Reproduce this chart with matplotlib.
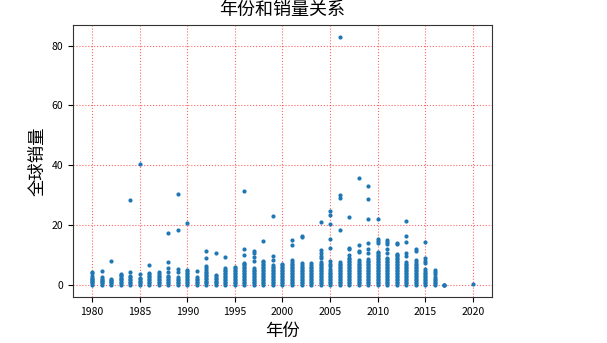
import matplotlib
matplotlib.use("Agg")
import matplotlib.pyplot as plt

plt.rcParams['font.family'] = ['Noto Sans CJK SC', 'DejaVu Sans']
plt.rcParams['axes.unicode_minus'] = False

# Global sales (millions) of titles released each year
years = [1980, 1981, 1982, 1983, 1984, 1985, 1986, 1987, 1988, 1989,
         1990, 1991, 1992, 1993, 1994, 1995, 1996, 1997, 1998, 1999,
         2000, 2001, 2002, 2003, 2004, 2005, 2006, 2007, 2008, 2009,
         2010, 2011, 2012, 2013, 2014, 2015, 2016, 2017, 2020]

y1980 = [0.01, 0.4, 0.8, 1.1, 1.5, 1.9, 2.3, 2.8, 3.8, 4.31]
y1981 = [0.02, 0.4, 0.8, 1.2, 1.6, 2.0, 2.5, 4.5]
y1982 = [0.01, 0.4, 0.8, 1.2, 1.6, 2.0, 7.81]
y1983 = [0.02, 0.5, 0.9, 1.4, 1.8, 2.3, 2.8, 3.2, 3.6]
y1984 = [0.03, 0.5, 0.9, 1.4, 1.9, 2.4, 2.9, 4.2, 28.31]
y1985 = [0.02, 0.4, 0.9, 1.3, 1.8, 2.3, 3.7, 40.24]
y1986 = [0.02, 0.5, 1.0, 1.5, 2.0, 2.5, 3.0, 3.5, 3.9, 6.51]
y1987 = [0.02, 0.5, 1.0, 1.5, 2.0, 2.5, 3.0, 3.6, 4.38]
y1988 = [0.03, 0.5, 1.0, 1.5, 2.0, 2.5, 3.0, 4.3, 5.7, 7.5, 17.28]
y1989 = [0.02, 0.5, 1.0, 1.5, 2.0, 2.5, 4.1, 5.3, 18.14, 30.26]
y1990 = [0.03, 0.5, 1.0, 1.5, 2.0, 2.5, 3.0, 3.5, 4.0, 4.5, 5.0, 20.61]
y1991 = [0.02, 0.5, 1.0, 1.5, 2.0, 2.4, 4.6]
y1992 = [0.02, 0.4, 0.9, 1.3, 1.8, 2.3, 2.8, 3.3, 3.8, 4.4, 5.0, 5.6,
         6.3, 8.8, 11.18]
y1993 = [0.02, 0.4, 0.9, 1.3, 1.8, 2.3, 2.8, 3.4, 10.55]
y1994 = [0.02, 0.5, 1.0, 1.5, 2.0, 2.5, 3.0, 3.5, 4.0, 4.5, 5.0, 5.5, 9.3]
y1995 = [0.02, 0.5, 1.0, 1.5, 2.0, 2.5, 3.0, 3.5, 4.0, 4.5, 5.0, 5.5, 5.8]
y1996 = [0.01, 0.5, 1.0, 1.5, 2.0, 2.5, 3.0, 3.5, 4.0, 4.5, 5.0, 5.5,
         6.0, 6.5, 7.0, 7.4, 9.9, 12.0, 31.37]
y1997 = [0.02, 0.5, 1.0, 1.5, 2.0, 2.5, 3.0, 3.5, 4.0, 4.5, 5.0, 5.6,
         8.0, 9.2, 10.6, 11.3]
y1998 = [0.02, 0.5, 1.0, 1.5, 2.0, 2.5, 3.0, 3.5, 4.0, 4.5, 5.0, 5.5,
         6.0, 6.5, 7.0, 7.5, 8.0, 14.64]
y1999 = [0.01, 0.5, 1.0, 1.5, 2.0, 2.5, 3.0, 3.5, 4.0, 4.5, 5.0, 5.5,
         6.0, 6.5, 8.2, 9.7, 23.1]
y2000 = [0.01, 0.5, 1.0, 1.5, 2.0, 2.5, 3.0, 3.5, 4.0, 4.5, 5.0, 5.5,
         6.0, 6.5, 7.0]
y2001 = [0.01, 0.5, 1.0, 1.5, 2.0, 2.5, 3.0, 3.5, 4.0, 4.5, 5.0, 5.5,
         6.0, 6.5, 7.0, 7.5, 8.3, 13.3, 15.0]
y2002 = [0.01, 0.5, 1.0, 1.5, 2.0, 2.5, 3.0, 3.5, 4.0, 4.5, 5.0, 5.5,
         6.0, 6.6, 7.2, 15.85, 16.15]
y2003 = [0.01, 0.5, 1.0, 1.5, 2.0, 2.5, 3.0, 3.5, 4.0, 4.5, 5.0, 5.5,
         6.0, 6.6, 7.3]
y2004 = [0.01, 0.5, 1.0, 1.5, 2.0, 2.5, 3.0, 3.5, 4.0, 4.5, 5.0, 5.5,
         6.0, 6.5, 7.0, 7.5, 8.8, 9.6, 10.6, 11.7, 20.81]
y2005 = [0.01, 0.5, 1.0, 1.5, 2.0, 2.5, 3.0, 3.5, 4.0, 4.6, 5.2, 6.2,
         7.0, 7.9, 12.4, 15.4, 20.22, 23.42, 24.76]
y2006 = [0.01, 0.5, 1.0, 1.5, 2.0, 2.5, 3.0, 3.5, 4.0, 4.5, 5.0, 5.5,
         6.0, 6.5, 7.0, 7.5, 18.36, 29.02, 30.01, 82.74]
y2007 = [0.01, 0.5, 1.0, 1.5, 2.0, 2.5, 3.0, 3.5, 4.0, 4.5, 5.0, 5.5,
         6.0, 6.5, 7.0, 7.5, 8.0, 8.5, 9.0, 9.8, 11.8, 12.2, 22.72]
y2008 = [0.01, 0.5, 1.0, 1.5, 2.0, 2.5, 3.0, 3.5, 4.0, 4.5, 5.0, 5.5,
         6.0, 6.5, 7.0, 7.5, 8.1, 10.8, 11.2, 13.3, 35.82]
y2009 = [0.01, 0.5, 1.0, 1.5, 2.0, 2.5, 3.0, 3.5, 4.0, 4.5, 5.0, 5.5,
         6.0, 6.5, 7.0, 7.5, 8.0, 8.6, 10.6, 11.9, 13.8, 22.0, 28.62, 33.0]
y2010 = [0.01, 0.5, 1.0, 1.5, 2.0, 2.5, 3.0, 3.5, 4.0, 4.5, 5.0, 5.5,
         6.0, 6.5, 7.0, 7.5, 8.0, 8.5, 9.0, 9.5, 10.0, 10.5, 11.0,
         14.1, 14.6, 15.3, 21.82]
y2011 = [0.01, 0.5, 1.0, 1.5, 2.0, 2.5, 3.0, 3.5, 4.0, 4.5, 5.0, 5.5,
         6.0, 6.5, 7.0, 7.5, 8.0, 8.5, 8.9, 10.6, 12.0, 13.7, 14.2, 15.1]
y2012 = [0.01, 0.5, 1.0, 1.5, 2.0, 2.5, 3.0, 3.5, 4.0, 4.5, 5.0, 5.5,
         6.0, 6.5, 7.0, 7.5, 8.0, 8.5, 9.0, 9.5, 10.0, 10.3, 13.7, 14.0]
y2013 = [0.01, 0.5, 1.0, 1.5, 2.0, 2.5, 3.0, 3.5, 4.0, 4.5, 5.0, 5.5,
         6.0, 6.5, 7.0, 7.6, 9.6, 10.6, 14.4, 16.4, 21.4]
y2014 = [0.01, 0.5, 1.0, 1.5, 2.0, 2.5, 3.0, 3.5, 4.0, 4.5, 5.0, 5.5,
         6.0, 6.5, 7.0, 7.5, 8.2, 11.2, 12.0]
y2015 = [0.01, 0.5, 1.0, 1.5, 2.0, 2.5, 3.0, 3.5, 4.0, 4.6, 5.2, 7.4,
         8.0, 8.9, 14.24]
y2016 = [0.01, 0.5, 1.0, 1.5, 2.0, 2.6, 3.6, 4.4, 5.0]
y2017 = [0.01, 0.02, 0.03]
y2020 = [0.29]

sales = [y1980, y1981, y1982, y1983, y1984, y1985, y1986, y1987, y1988,
         y1989, y1990, y1991, y1992, y1993, y1994, y1995, y1996, y1997,
         y1998, y1999, y2000, y2001, y2002, y2003, y2004, y2005, y2006,
         y2007, y2008, y2009, y2010, y2011, y2012, y2013, y2014, y2015,
         y2016, y2017, y2020]

xs, ys = [], []
for yr, vals in zip(years, sales):
    xs.extend([yr] * len(vals))
    ys.extend(vals)

fig = plt.figure(figsize=(6.07, 3.43), dpi=100)
ax = fig.add_axes([0.1203, 0.1341, 0.6902, 0.7930])

ax.scatter(xs, ys, s=9, color='#1f77b4', linewidths=0, zorder=3)
ax.grid(True, color='red', linestyle=':', linewidth=0.8, alpha=0.6, zorder=0)
ax.set_axisbelow(True)
for sp in ax.spines.values():
    sp.set_color('#333333')

ax.set_title('年份和销量关系', fontsize=13, pad=7)
ax.set_xlabel('年份', fontsize=12.5)
ax.set_ylabel('全球销量', fontsize=12.5)
ax.tick_params(labelsize=7.5)

fig.savefig('out.png', dpi=100)
